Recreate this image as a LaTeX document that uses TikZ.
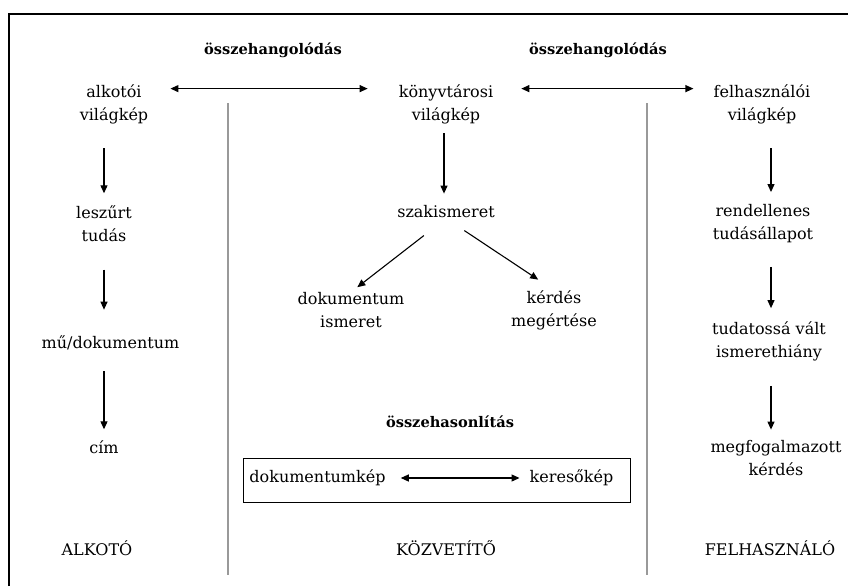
\documentclass[tikz,border=0pt]{standalone}
\usepackage{fontspec}
\setmainfont{DejaVu Serif}
\usepackage{tikz}
\usetikzlibrary{arrows.meta}

\begin{document}
\begin{tikzpicture}[x=1pt,y=-1pt,
        lbl/.style={align=center,inner sep=0pt,font=\fontsize{16}{23}\selectfont},
        hd/.style={inner sep=0pt,font=\fontsize{14.6}{17}\selectfont\bfseries},
        arr/.style={-{Triangle[length=8pt,width=7pt]},line width=1.1pt},
        dbl/.style={{Triangle[length=8pt,width=7pt]}-{Triangle[length=8pt,width=7pt]},line width=1.1pt},
        divider/.style={draw=gray!80,line width=1.3pt}]
        \useasboundingbox (0,0) rectangle (848,586);
        \draw[line width=2pt] (9,586) -- (9,14) -- (849,14);
        \draw[divider] (228,103) -- (228,575);
        \draw[divider] (647,103) -- (647,575);

        \node[hd] (hang1) at (273,50) {összehangolódás};
        \node[hd] (hang2) at (598,50) {összehangolódás};

        \node[lbl] (alk) at (114,104.5) {alkotói\\világkép};
        \node[lbl] (lesz) at (104,223.5) {leszűrt\\tudás};
        \node[lbl] (mu) at (110.5,343) {mű/dokumentum};
        \node[lbl] (cim) at (104,447) {cím};

        \node[lbl] (konyv) at (446,104.5) {könyvtárosi\\világkép};
        \node[lbl] (szak) at (446,212) {szakismeret};
        \node[lbl] (dokism) at (351,310) {dokumentum\\ismeret};
        \node[lbl] (kerdes) at (554,310) {kérdés\\megértése};

        \node[lbl] (felh) at (762,104.5) {felhasználói\\világkép};
        \node[lbl] (rend) at (763,223.5) {rendellenes\\tudásállapot};
        \node[lbl] (tudat) at (769,341) {tudatossá vált\\ismerethiány};
        \node[lbl] (megf) at (776,458.5) {megfogalmazott\\kérdés};

        \node[hd] (hasonl) at (450,422) {összehasonlítás};
        \node[draw,line width=0.8pt,minimum width=387pt,minimum height=44pt] (cmpbox) at (436.5,480) {};
        \node[lbl] (dokkep) at (317.5,478) {dokumentumkép};
        \node[lbl] (kereso) at (571.5,478) {keresőkép};

        \node[lbl] (alkoto) at (97,548) {ALKOTÓ};
        \node[lbl] (kozv) at (446,548) {KÖZVETÍTŐ};
        \node[lbl] (felhn) at (770,548) {FELHASZNÁLÓ};

        \draw[dbl,shorten <=22pt,shorten >=31pt] ([yshift=-4pt]alk.north east) -- ([yshift=-4pt]konyv.north west);
        \draw[dbl,shorten <=28pt,shorten >=20pt] ([yshift=-4pt]konyv.north east) -- ([yshift=-4pt]felh.north west);

        \draw[arr,shorten <=24pt,shorten >=12pt] (alk.south -| lesz) -- (lesz.north);
        \draw[arr,shorten <=28pt,shorten >=26pt] (lesz.south) -- (lesz.south |- mu.north);
        \draw[arr,shorten <=21pt,shorten >=11pt] (mu.south -| cim) -- (cim.north);

        \draw[arr,shorten <=9pt,shorten >=12pt] ([xshift=-2pt]konyv.south) -- ([xshift=-2pt]szak.north);
        \draw[arr,shorten <=28pt,shorten >=8pt] (szak.south) -- (dokism.north);
        \draw[arr,shorten <=22pt,shorten >=19pt] (szak.south) -- (kerdes.north);

        \draw[arr,shorten <=24pt,shorten >=12pt] ([xshift=9pt]felh.south) -- ([xshift=8pt]rend.north);
        \draw[arr,shorten <=24pt,shorten >=13pt] ([xshift=8pt]rend.south) -- ([xshift=2pt]tudat.north);
        \draw[arr,shorten <=25pt,shorten >=11pt] ([xshift=2pt]tudat.south) -- ([xshift=-5pt]megf.north);

        \draw[dbl,shorten <=15pt,shorten >=10pt] (dokkep.east) -- (kereso.west);
\end{tikzpicture}
\end{document}
